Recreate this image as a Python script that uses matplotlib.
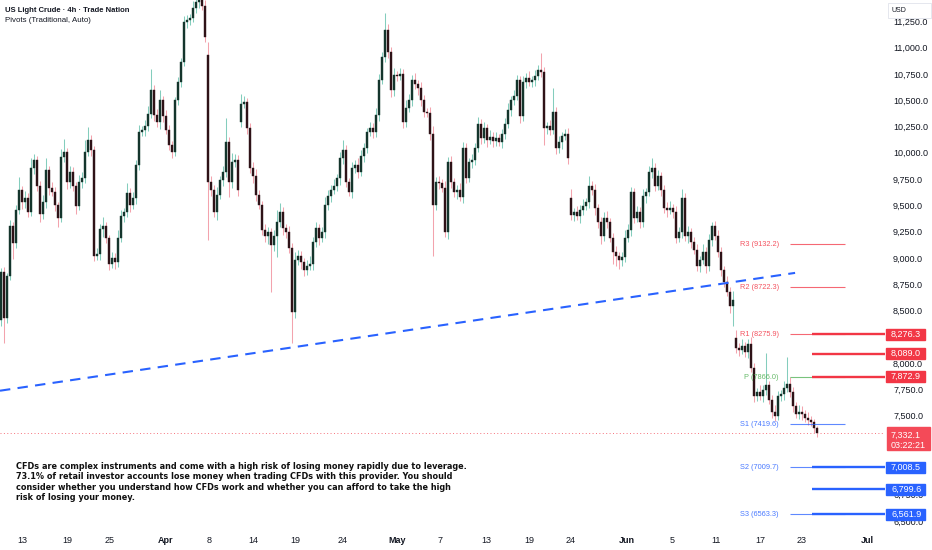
import numpy as np
import matplotlib
matplotlib.use('Agg')
import matplotlib.pyplot as plt
from matplotlib import transforms
from matplotlib.patches import Rectangle

plt.rcParams['font.family'] = ['Liberation Sans', 'DejaVu Sans']

# 4h candles, closes (one candle per slot)
closes = [
    8868, 8431, 8830, 9305, 9144, 9457, 9647, 9533, 9571, 9438,
    9856, 9932, 9685, 9419, 9533, 9837, 9666, 9628, 9504, 9381,
    9960, 10008, 9723, 9818, 9685, 9495, 9723, 9761, 10008, 10122,
    10027, 9020, 9039, 9276, 9305, 9191, 8944, 9001, 8963, 9191,
    9400, 9438, 9618, 9504, 9571, 9884, 10198, 10217, 10255, 10369,
    10597, 10360, 10293, 10502, 10350, 10217, 10074, 10008, 10502, 10673,
    10863, 11243, 11262, 11281, 11376, 11433, 11490, 11395, 11100, 9723,
    9647, 9438, 9600, 9742, 9818, 10103, 9723, 9913, 9932, 9647,
    10464, 10483, 10236, 9856, 9780, 9600, 9504, 9267, 9210, 9248,
    9125, 9210, 9343, 9438, 9286, 9248, 9096, 8488, 8982, 9020,
    8963, 8887, 8925, 8944, 9153, 9286, 9191, 9248, 9504, 9590,
    9647, 9685, 9761, 9951, 10027, 9723, 9628, 9856, 9884, 9818,
    9970, 10046, 10198, 10236, 10198, 10360, 10692, 10910, 11167, 10958,
    10597, 10740, 10730, 10749, 10293, 10426, 10502, 10692, 10654, 10616,
    10502, 10388, 10378, 10179, 9504, 9723, 9713, 9666, 9248, 9913,
    9723, 9628, 9647, 9580, 10046, 9761, 9913, 9932, 10046, 10274,
    10141, 10236, 10122, 10150, 10112, 10141, 10103, 10179, 10274, 10407,
    10502, 10540, 10692, 10350, 10673, 10711, 10673, 10692, 10730, 10787,
    10768, 10236, 10255, 10217, 10388, 10046, 10103, 10160, 10179, 9951,
    9410, 9438, 9400, 9457, 9495, 9533, 9685, 9647, 9476, 9343,
    9210, 9381, 9343, 9191, 9058, 9020, 8982, 9010, 9191, 9267,
    9628, 9381, 9438, 9343, 9590, 9628, 9818, 9856, 9685, 9780,
    9647, 9476, 9457, 9476, 9438, 9191, 9248, 9571, 9210, 9248,
    9153, 9077, 8925, 8982, 9058, 8925, 9172, 9305, 9210, 9058,
    8887, 8773, 8678, 8545, 8602, 8146, 8127, 8165, 8108, 8184,
    7956, 7690, 7728, 7690, 7747, 7794, 7652, 7538, 7500, 7690,
    7709, 7766, 7804, 7728, 7595, 7519, 7538, 7519, 7481, 7462,
    7443, 7386, 7332.1,
]

upper_wick = [
    40, 50, 30, 60, 40, 50, 120, 40, 70, 50,
    90, 60, 40, 50, 70, 110, 40, 60, 50, 30,
    80, 120, 40, 60, 50, 40, 70, 60, 110, 120,
    50, 40, 60, 50, 80, 40, 30, 60, 50, 70,
    60, 40, 90, 50, 60, 50, 70, 40, 60, 80,
    200, 50, 60, 90, 40, 60, 50, 40, 30, 50,
    40, 60, 50, 40, 70, 60, 50, 40, 60, 120,
    60, 50, 70, 40, 60, 230, 50, 80, 60, 50,
    90, 60, 40, 50, 60, 70, 50, 40, 60, 50,
    40, 60, 110, 80, 50, 40, 60, 50, 70, 60,
    50, 40, 60, 70, 50, 60, 40, 50, 80, 60,
    50, 70, 40, 60, 90, 50, 40, 60, 50, 70,
    60, 50, 40, 60, 50, 70, 60, 50, 160, 60,
    50, 70, 40, 60, 50, 80, 60, 50, 70, 40,
    60, 50, 40, 60, 80, 50, 60, 40, 70, 50,
    60, 40, 50, 70, 60, 50, 40, 60, 50, 70,
    50, 60, 40, 70, 50, 60, 40, 50, 60, 70,
    40, 60, 50, 40, 60, 50, 70, 40, 60, 50,
    160, 50, 40, 60, 230, 50, 60, 40, 50, 60,
    80, 40, 60, 50, 70, 40, 90, 50, 60, 40,
    50, 60, 70, 40, 50, 60, 40, 50, 70, 60,
    50, 40, 60, 50, 70, 40, 60, 90, 50, 60,
    40, 50, 60, 70, 40, 60, 50, 80, 50, 60,
    40, 50, 60, 40, 70, 50, 60, 40, 50, 60,
    50, 40, 60, 50, 80, 70, 50, 60, 40, 50,
    60, 50, 40, 60, 50, 300, 40, 50, 60, 50,
    40, 60, 250, 60, 50, 40, 60, 50, 40, 50,
    40, 30, 20,
]

lower_wick = [
    60, 240, 50, 40, 150, 50, 40, 70, 60, 50,
    40, 60, 50, 80, 50, 60, 70, 40, 60, 90,
    40, 50, 70, 60, 50, 80, 40, 60, 50, 40,
    60, 50, 40, 60, 80, 50, 60, 40, 70, 50,
    40, 60, 50, 70, 40, 60, 50, 40, 60, 50,
    40, 60, 50, 70, 60, 40, 50, 60, 40, 50,
    50, 40, 60, 50, 40, 50, 60, 40, 50, 550,
    60, 50, 80, 40, 60, 50, 140, 60, 50, 60,
    50, 40, 60, 50, 70, 60, 40, 50, 60, 80,
    450, 60, 200, 50, 70, 60, 50, 300, 60, 50,
    70, 60, 50, 40, 60, 50, 70, 40, 60, 50,
    60, 40, 50, 70, 60, 50, 40, 60, 50, 60,
    40, 60, 50, 40, 60, 50, 60, 40, 50, 60,
    70, 60, 50, 40, 60, 50, 40, 60, 50, 70,
    60, 50, 40, 60, 490, 50, 60, 40, 50, 70,
    60, 50, 70, 40, 60, 50, 40, 60, 50, 40,
    60, 50, 70, 40, 60, 50, 40, 60, 50, 40,
    60, 50, 40, 70, 50, 60, 40, 50, 60, 40,
    50, 160, 60, 50, 40, 60, 50, 70, 40, 60,
    50, 60, 40, 70, 50, 40, 60, 50, 70, 60,
    80, 50, 60, 40, 120, 100, 90, 60, 50, 40,
    60, 50, 40, 60, 50, 70, 40, 60, 50, 40,
    60, 50, 70, 40, 60, 50, 40, 60, 50, 70,
    60, 40, 50, 60, 40, 70, 50, 60, 40, 50,
    60, 50, 40, 70, 190, 50, 60, 40, 50, 60,
    40, 60, 50, 40, 60, 50, 40, 60, 50, 40,
    50, 60, 40, 50, 60, 40, 50, 60, 40, 50,
    40, 50, 30,
]

first_open = 8412
# opens after weekend gaps (candle index -> open)
gap_opens = {69: 10929, 80: 10293, 190: 9571, 245: 8241}

pivot_names = ['R3', 'R2', 'R1', 'P', 'S1', 'S2', 'S3']
pivot_values = [9132.2, 8722.3, 8275.9, 7866.0, 7419.6, 7009.7, 6563.3]
res_levels = [8276.3, 8089.0, 7872.9]
sup_levels = [7008.5, 6799.6, 6561.9]
last_price = 7332.1
countdown = '03:22:21'

trend_x = [-0.33, 264.7]
trend_y = [7738, 8858]

# scale ticks; the ones hidden behind the price boxes are left out
price_ticks = [6500, 6750, 7500, 7750, 8000, 8500, 8750, 9000, 9250, 9500,
               9750, 10000, 10250, 10500, 10750, 11000, 11250]

tick_bars = [7.0, 22.0, 36.3, 54.7, 69.3, 84.0, 98.0, 113.7, 132.0, 146.3,
             161.7, 176.0, 190.0, 208.7, 223.7, 238.3, 253.0, 267.0, 288.7]
tick_labels = ['13', '19', '25', 'Apr', '8', '14', '19', '24', 'May', '7',
               '13', '19', '24', 'Jun', '5', '11', '17', '23', 'Jul']
months = {'Apr', 'May', 'Jun', 'Jul'}

disclaimer = [
    'CFDs are complex instruments and come with a high risk of losing money rapidly due to leverage.',
    '73.1% of retail investor accounts lose money when trading CFDs with this provider. You should',
    'consider whether you understand how CFDs work and whether you can afford to take the high',
    'risk of losing your money.',
]

RED = '#f23645'
BLUE = '#2962ff'
GREEN = '#4caf50'
TXT = '#131722'

c = np.array(closes, dtype=float)
o = np.array([first_open] + closes[:-1], dtype=float)
for i, v in gap_opens.items():
    o[i] = v
top = np.maximum(o, c)
bot = np.minimum(o, c)
hi = top + np.array(upper_wick)
lo = bot - np.array(lower_wick)
x = np.arange(len(c))
up = c >= o

W, H = 932, 550
fig = plt.figure(figsize=(W / 100, H / 100), dpi=100)
ax = fig.add_axes([0, 22 / H, 885 / W, 528 / H])
ax.set_xlim(-0.33, 294.67)
ax.set_ylim(6433, 11452)

wick_col = np.where(up, '#84cdbd', '#f3a3ad')
body_col = np.where(up, '#14352c', '#2e1217')
ax.vlines(x, lo, hi, colors=wick_col, lw=0.75, zorder=2)
ax.bar(x, np.maximum(top - bot, 10), bottom=bot, width=0.72,
       color=body_col, edgecolor=body_col, lw=0.3, zorder=3)

# trend line
ax.plot(trend_x, trend_y, color=BLUE, lw=1.5, ls=(0, (5, 3.5)), zorder=4)

# current price dotted line
ax.axhline(last_price, color=RED, lw=0.7, ls=(0, (1, 2.5)), alpha=0.7, zorder=1)

# pivots
piv_start, piv_end, lab_x = 263, 281.3, 259.3
for name, val in zip(pivot_names, pivot_values):
    col = RED if name.startswith('R') else (GREEN if name == 'P' else BLUE)
    ax.hlines(val, piv_start, piv_end, color=col, lw=0.8, alpha=0.75, zorder=4)
    ax.text(lab_x, val, f'{name} ({val:.1f})', ha='right', va='center',
            fontsize=5.3, color=col, alpha=0.85, zorder=5)

lvl_start = 270.3
xr = ax.get_xlim()[1]
for v in res_levels:
    ax.hlines(v, lvl_start, xr, color=RED, lw=1.7, zorder=5)
for v in sup_levels:
    ax.hlines(v, lvl_start, xr, color=BLUE, lw=1.7, zorder=5)

# axes styling
for s in ax.spines.values():
    s.set_visible(False)
ax.yaxis.tick_right()
ax.set_yticks(price_ticks)
ax.set_yticklabels([f'{v:,.1f}' for v in price_ticks])
ax.tick_params(axis='y', length=0, pad=5.8, labelsize=6.5, labelcolor=TXT)
ax.set_xticks(tick_bars)
ax.set_xticklabels(tick_labels)
ax.tick_params(axis='x', length=0, pad=5.5, labelsize=6.5, labelcolor=TXT)
for t in ax.get_xticklabels():
    if t.get_text() in months:
        t.set_fontweight('bold')

# price labels on the scale
bt = transforms.blended_transform_factory(fig.transFigure, ax.transData)
ppx = 9.506  # price units per pixel


def price_box(val, col, text, up_px=5.5, dn_px=5.5, x0=886, x1=925):
    ax.add_patch(Rectangle((x0 / W, val - dn_px * ppx), (x1 - x0) / W,
                           (up_px + dn_px) * ppx, transform=bt, color=col,
                           clip_on=False, zorder=10))
    ax.text(891 / W, val, text, transform=bt, ha='left', va='center',
            fontsize=6.5, color='white', clip_on=False, zorder=11)


for v in res_levels:
    price_box(v, RED, f'{v:,.1f}')
for v in sup_levels:
    price_box(v, BLUE, f'{v:,.1f}')
ax.add_patch(Rectangle((887 / W, last_price - 16.5 * ppx), 43 / W, 23 * ppx,
                       transform=bt, color='#f44a58', clip_on=False, zorder=10))
ax.text(891 / W, last_price - 1.5 * ppx, f'{last_price:,.1f}', transform=bt,
        ha='left', va='center', fontsize=6.5, color='white', zorder=11)
ax.text(891 / W, last_price - 12 * ppx, countdown, transform=bt,
        ha='left', va='center', fontsize=6.5, color='white', zorder=11)

# USD box
fig.patches.append(Rectangle((888 / W, 1 - 18 / H), 43 / W, 15 / H,
                             transform=fig.transFigure, facecolor='white',
                             edgecolor='#e0e3eb', lw=0.6, zorder=10))
fig.text(892 / W, 1 - 10.5 / H, 'USD', fontsize=5, color=TXT, va='center', zorder=11)

# header
fig.text(5 / W, 1 - 10 / H, 'US Light Crude · 4h · Trade Nation', fontsize=5.5,
         fontweight='bold', color=TXT, va='center')
fig.text(5 / W, 1 - 21 / H, 'Pivots (Traditional, Auto)', fontsize=5.7,
         color=TXT, va='center')

for i, line in enumerate(disclaimer):
    fig.text(16 / W, 1 - (466.5 + i * 10.4) / H, line, fontsize=5.85,
             fontweight='bold', color='#111111', va='center',
             family=['DejaVu Sans'])

fig.savefig('out.png', dpi=100, facecolor='white')
